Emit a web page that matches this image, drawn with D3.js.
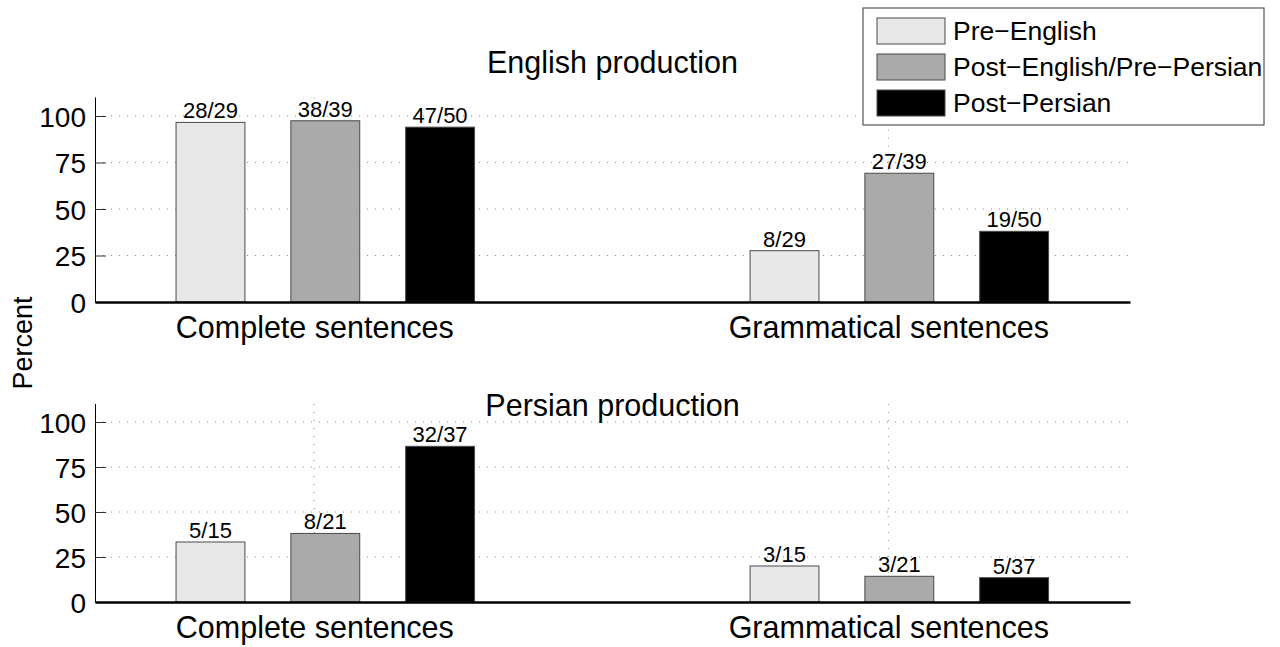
<!DOCTYPE html>
<html>
<head>
<meta charset="utf-8">
<script src="https://cdn.jsdelivr.net/npm/d3@7"></script>
<style>
  body { margin: 0; background: #fff; }
  svg { display: block; font-family: "Liberation Sans", Arial, Helvetica, sans-serif; }
</style>
</head>
<body>
<div id="chart"></div>
<script>
// categories and series
var groups = ["Complete sentences", "Grammatical sentences"];
var series = ["Pre\u2212English", "Post\u2212English/Pre\u2212Persian", "Post\u2212Persian"];
var yTicks = [0, 25, 50, 75, 100];

// counts (numerator / denominator), one row per group
var englishNum = [[28, 38, 47], [8, 27, 19]];
var englishDen = [[29, 39, 50], [29, 39, 50]];
var persianNum = [[5, 8, 32], [3, 3, 5]];
var persianDen = [[15, 21, 37], [15, 21, 37]];

var colors = ["#e8e8e8", "#aaaaaa", "#000000"];

var width = 1280, height = 647;
var svg = d3.select("#chart").append("svg")
  .attr("width", width)
  .attr("height", height)
  .attr("viewBox", [0, 0, width, height]);

svg.append("rect").attr("width", width).attr("height", height).attr("fill", "#fff");

var x = d3.scaleLinear().domain([0.618, 2.421]).range([95, 1130]);
// bar offset inside a group, in x units
var xSub = d3.scaleBand().domain(series).range([-0.3, 0.3]).paddingInner(0.4).paddingOuter(0.2);
var barShift = 11; // bars sit a little right of the tick in the original

function makeRows(num, den) {
  var rows = [];
  num.forEach(function (r, gi) {
    r.forEach(function (n, si) {
      rows.push({ group: gi, s: series[si], si: si, value: n / den[gi][si] * 100, label: n + "/" + den[gi][si] });
    });
  });
  return rows;
}

function drawPanel(opt) {
  var y = d3.scaleLinear().domain([0, 110]).range([opt.bottom, opt.top]);
  var g = svg.append("g");

  // dotted grid
  g.append("g").selectAll("line.h")
    .data(yTicks.filter(function (d) { return d > 0; }))
    .join("line")
    .attr("x1", x.range()[0]).attr("x2", x.range()[1])
    .attr("y1", function (d) { return y(d); }).attr("y2", function (d) { return y(d); })
    .attr("stroke", "#8a8a8a").attr("stroke-width", 1).attr("stroke-dasharray", "1,7");
  g.append("g").selectAll("line.v")
    .data([1, 2])
    .join("line")
    .attr("x1", function (d) { return x(d); }).attr("x2", function (d) { return x(d); })
    .attr("y1", y(110)).attr("y2", y(0))
    .attr("stroke", "#8a8a8a").attr("stroke-width", 1).attr("stroke-dasharray", "1,7");

  // y axis
  var ya = g.append("g")
    .attr("transform", "translate(" + x.range()[0] + ",0)")
    .call(d3.axisLeft(y).tickValues(yTicks).tickSize(-11).tickPadding(9));
  ya.select(".domain").attr("stroke", "#000").attr("d", "M0.5," + y(110) + "V" + y(0));
  ya.selectAll(".tick line").attr("stroke", "#333");
  ya.selectAll("text").attr("font-size", 28).attr("fill", "#000")
    .attr("font-family", "Liberation Sans, Arial, sans-serif").attr("dy", "0.36em");

  var rows = makeRows(opt.num, opt.den);

  // bars
  g.append("g").selectAll("rect")
    .data(rows)
    .join("rect")
    .attr("x", function (d) { return x(d.group + 1 + xSub(d.s)) + barShift; })
    .attr("width", function () { return x(xSub.bandwidth()) - x(0); })
    .attr("y", function (d) { return y(d.value); })
    .attr("height", function (d) { return y(0) - y(d.value); })
    .attr("fill", function (d) { return colors[d.si]; })
    .attr("stroke", "#4a4a4a").attr("stroke-width", 1);

  // labels on bars
  g.append("g").selectAll("text")
    .data(rows)
    .join("text")
    .attr("x", function (d) { return x(d.group + 1 + xSub(d.s) + xSub.bandwidth() / 2) + barShift; })
    .attr("y", function (d) { return y(d.value) - 4; })
    .attr("text-anchor", "middle")
    .attr("font-size", 22)
    .text(function (d) { return d.label; });

  // x axis
  var xa = g.append("g")
    .attr("transform", "translate(0," + y(0) + ")")
    .call(d3.axisBottom(x).tickValues([1, 2]).tickFormat(function (d) { return groups[d - 1]; }).tickSize(0).tickPadding(14));
  xa.select(".domain").attr("stroke", "#000").attr("stroke-width", 2.5);
  xa.selectAll("text").attr("font-size", 30.5).attr("fill", "#000")
    .attr("font-family", "Liberation Sans, Arial, sans-serif");

  // title
  g.append("text")
    .attr("x", (x.range()[0] + x.range()[1]) / 2)
    .attr("y", opt.titleY)
    .attr("text-anchor", "middle")
    .attr("font-size", 30.5)
    .text(opt.title);
}

drawPanel({ top: 97.4, bottom: 302, num: englishNum, den: englishDen, title: "English production", titleY: 73 });
drawPanel({ top: 404, bottom: 602, num: persianNum, den: persianDen, title: "Persian production", titleY: 416 });

// y label
svg.append("text")
  .attr("transform", "translate(32,343) rotate(-90)")
  .attr("text-anchor", "middle")
  .attr("font-size", 27)
  .text("Percent");

// legend
var legend = svg.append("g").attr("transform", "translate(863,8)");
legend.append("rect")
  .attr("width", 401).attr("height", 117)
  .attr("fill", "#fff").attr("stroke", "#555").attr("stroke-width", 1.2);
var item = legend.selectAll("g.item")
  .data(series)
  .join("g")
  .attr("transform", function (d, i) { return "translate(14," + (10 + i * 36) + ")"; });
item.append("rect")
  .attr("width", 68).attr("height", 26)
  .attr("fill", function (d, i) { return colors[i]; })
  .attr("stroke", "#4a4a4a");
item.append("text")
  .attr("x", 76).attr("y", 22)
  .attr("font-size", 26.5)
  .text(function (d) { return d; });
</script>
</body>
</html>
